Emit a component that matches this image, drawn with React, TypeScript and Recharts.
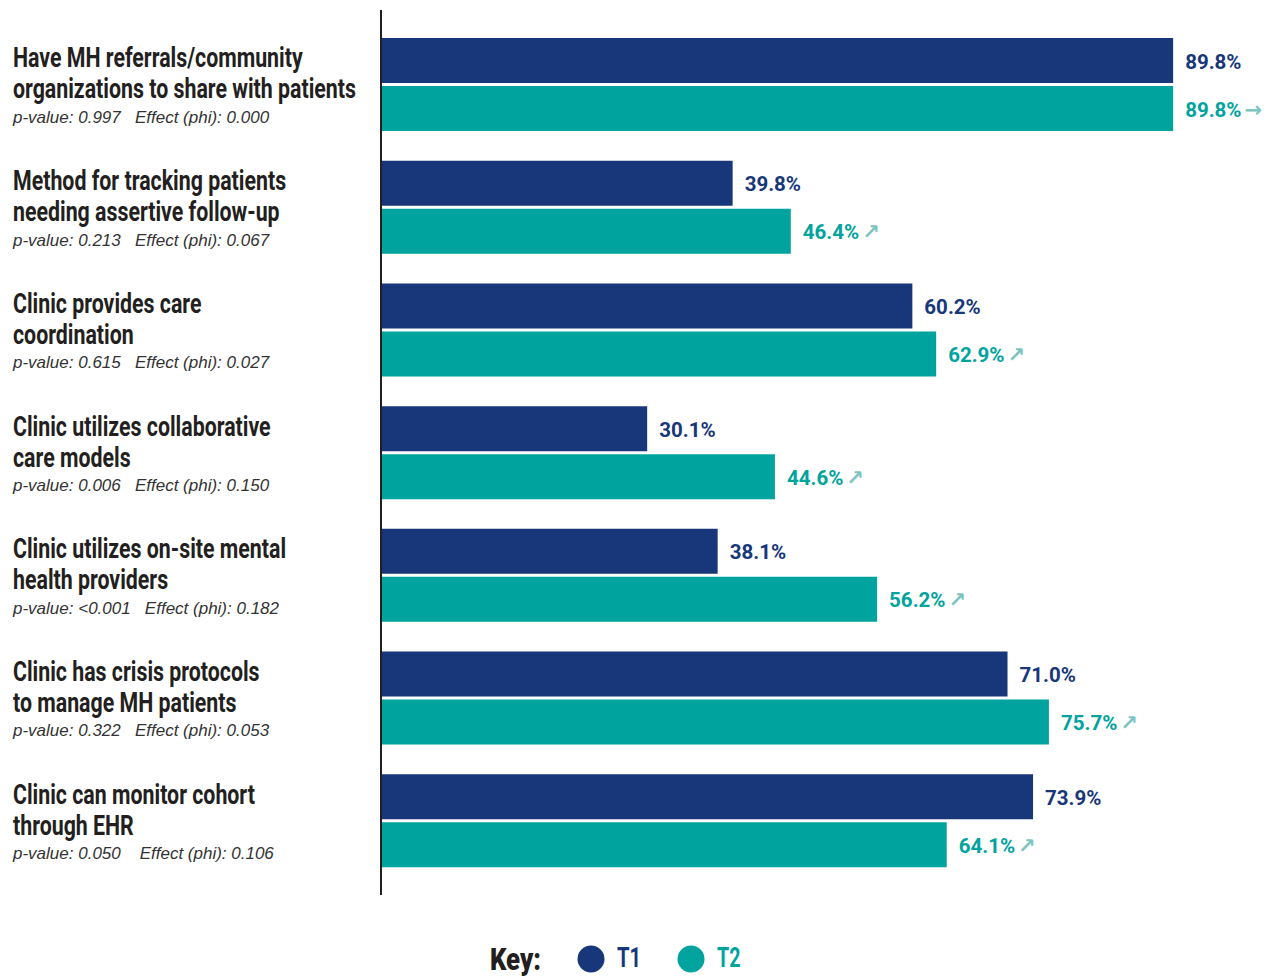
import React from "react";
import { BarChart, Bar, XAxis, YAxis, LabelList } from "recharts";

const categories = [
  "Have MH referrals/community organizations to share with patients",
  "Method for tracking patients needing assertive follow-up",
  "Clinic provides care coordination",
  "Clinic utilizes collaborative care models",
  "Clinic utilizes on-site mental health providers",
  "Clinic has crisis protocols to manage MH patients",
  "Clinic can monitor cohort through EHR",
];
const titleLine1 = [
  "Have MH referrals/community",
  "Method for tracking patients",
  "Clinic provides care",
  "Clinic utilizes collaborative",
  "Clinic utilizes on-site mental",
  "Clinic has crisis protocols",
  "Clinic can monitor cohort",
];
const titleLine2 = [
  "organizations to share with patients",
  "needing assertive follow-up",
  "coordination",
  "care models",
  "health providers",
  "to manage MH patients",
  "through EHR",
];
const statLines = [
  "p-value: 0.997   Effect (phi): 0.000",
  "p-value: 0.213   Effect (phi): 0.067",
  "p-value: 0.615   Effect (phi): 0.027",
  "p-value: 0.006   Effect (phi): 0.150",
  "p-value: <0.001   Effect (phi): 0.182",
  "p-value: 0.322   Effect (phi): 0.053",
  "p-value: 0.050    Effect (phi): 0.106",
];
const t1Values = [89.8, 39.8, 60.2, 30.1, 38.1, 71.0, 73.9];
const t2Values = [89.8, 46.4, 62.9, 44.6, 56.2, 75.7, 64.1];
const t2Arrows = ["→", "↗", "↗", "↗", "↗", "↗", "↗"];

const data = categories.map((c, i) => ({ name: c, t1: t1Values[i], t2: t2Values[i] }));

const NAVY = "#17377A";
const TEAL = "#00A39D";
const ARROW = "#7CC4BF";
const TITLE_FONT = "Roboto, 'Liberation Sans', sans-serif";
const BODY_FONT = "'Liberation Sans', Arial, sans-serif";
const TITLE_SCALE = 0.79;

const CategoryTick = (props: any) => {
  const { y, payload } = props;
  const i = categories.indexOf(payload.value);
  if (i < 0) return null;
  return (
    <g transform={`translate(13, ${y})`}>
      <g transform={`scale(${TITLE_SCALE}, 1)`}>
        <text x={0} y={-17} fontFamily={TITLE_FONT} fontWeight={700} fontSize={27} fill="#231f20">
          {titleLine1[i]}
        </text>
        <text x={0} y={14} fontFamily={TITLE_FONT} fontWeight={700} fontSize={27} fill="#231f20">
          {titleLine2[i]}
        </text>
      </g>
      <text x={0} y={38.5} fontFamily={BODY_FONT} fontStyle="italic" fontSize={17} fill="#333" xmlSpace="preserve" style={{ whiteSpace: "pre" }}>
        {statLines[i]}
      </text>
    </g>
  );
};

const makeLabel = (color: string, withArrow: boolean) => (props: any) => {
  const { x, y, width, height, value, index } = props;
  return (
    <text
      x={x + width + 12}
      y={y + height / 2 + 8}
      fontFamily={TITLE_FONT}
      fontWeight={700}
      fontSize={20.5}
      fill={color}
    >
      {`${Number(value).toFixed(1)}%`}
      {withArrow ? (
        <tspan dx={3} fontFamily="'DejaVu Sans', sans-serif" fontWeight="bold" fontSize={21} fill={ARROW}>
          {t2Arrows[index]}
        </tspan>
      ) : null}
    </text>
  );
};

export default function App() {
  return (
    <div style={{ position: "absolute", left: 0, top: 0, width: 1273, height: 976, background: "#fff", overflow: "hidden" }}>
      <BarChart
        width={1273}
        height={976}
        data={data}
        layout="vertical"
        margin={{ top: 23, right: 10, bottom: 94, left: 12 }}
        barSize={45}
        barGap={3}
      >
        <XAxis type="number" domain={[0, 100]} hide />
        <YAxis
          type="category"
          dataKey="name"
          width={370}
          axisLine={false}
          tickLine={false}
          tick={<CategoryTick />}
          interval={0}
        />
        <Bar dataKey="t1" fill={NAVY} isAnimationActive={false}>
          <LabelList dataKey="t1" content={makeLabel(NAVY, false)} />
        </Bar>
        <Bar dataKey="t2" fill={TEAL} isAnimationActive={false}>
          <LabelList dataKey="t2" content={makeLabel(TEAL, true)} />
        </Bar>
      </BarChart>
      <div style={{ position: "absolute", left: 380, top: 10, width: 2, height: 885, background: "#231f20" }} />
      <svg style={{ position: "absolute", left: 0, top: 930 }} width={1273} height={46}>
        <g transform="translate(490, 39.5) scale(0.83, 1)">
          <text x={0} y={0} fontFamily={TITLE_FONT} fontWeight={900} fontSize={31} fill="#231f20">Key:</text>
        </g>
        <circle cx={591} cy={29} r={13.5} fill={NAVY} />
        <g transform="translate(617, 36.5) scale(0.72, 1)">
          <text x={0} y={0} fontFamily={TITLE_FONT} fontWeight={700} fontSize={28} fill={NAVY}>T1</text>
        </g>
        <circle cx={691} cy={29} r={13.5} fill={TEAL} />
        <g transform="translate(717, 36.5) scale(0.7, 1)">
          <text x={0} y={0} fontFamily={TITLE_FONT} fontWeight={700} fontSize={28} fill={TEAL}>T2</text>
        </g>
      </svg>
    </div>
  );
}
